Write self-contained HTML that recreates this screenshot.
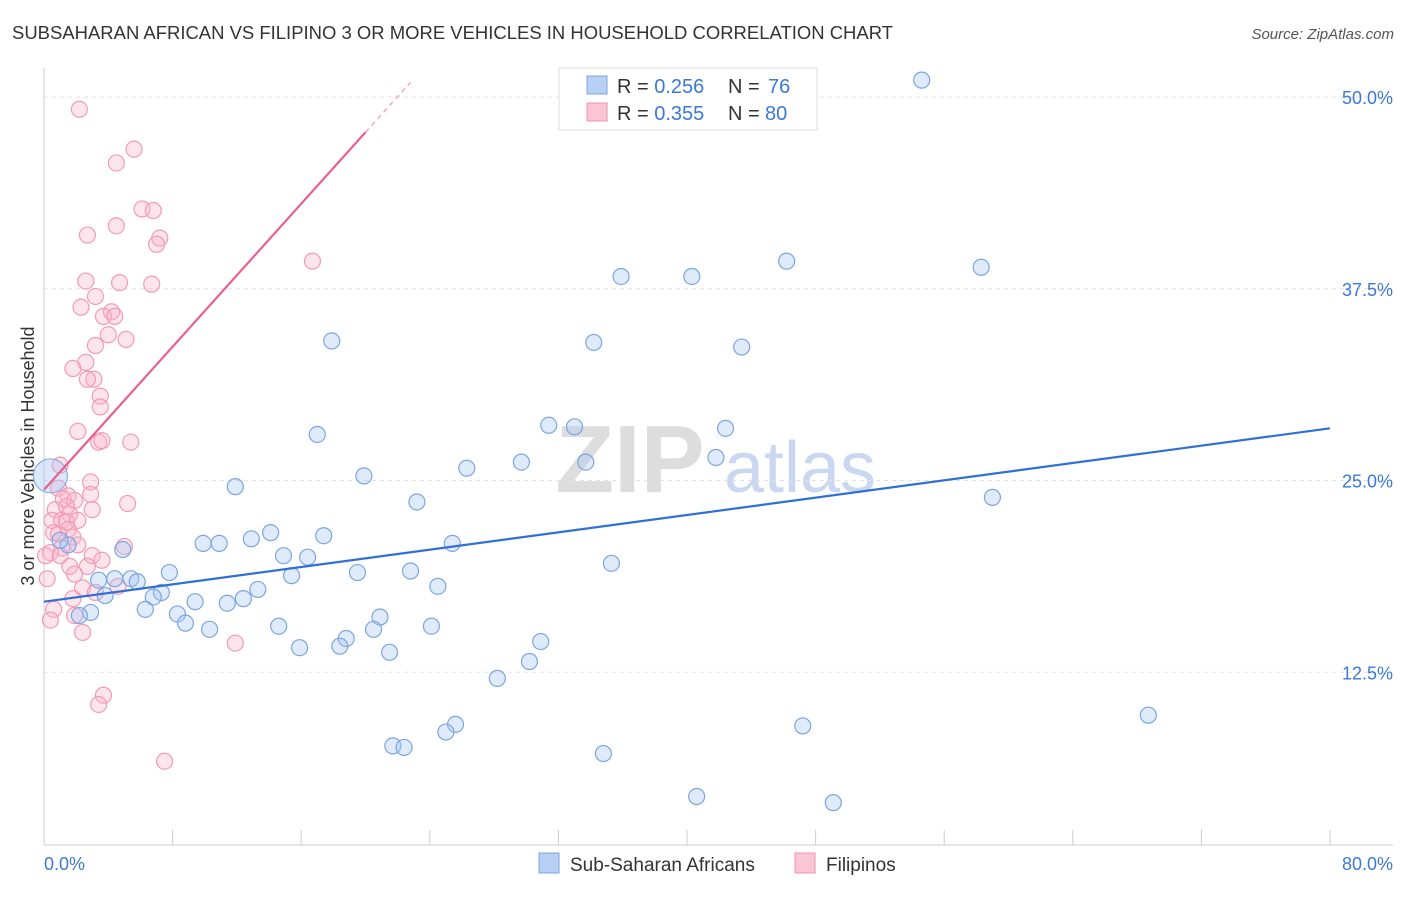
<!DOCTYPE html>
<html><head><meta charset="utf-8"><style>
body{margin:0;background:#fff;font-family:"Liberation Sans",sans-serif;}
svg text{font-family:"Liberation Sans",sans-serif;}
</style></head><body>
<svg id="chart" width="1406" height="892" xmlns="http://www.w3.org/2000/svg">
<text x="12" y="39" font-size="18.5" fill="#333" textLength="881" lengthAdjust="spacingAndGlyphs">SUBSAHARAN AFRICAN VS FILIPINO 3 OR MORE VEHICLES IN HOUSEHOLD CORRELATION CHART</text>
<text x="1394" y="39" font-size="15" fill="#555" font-style="italic" text-anchor="end">Source: ZipAtlas.com</text>
<g>
<text x="630" y="492" font-size="96" fill="#ddd" font-family="Liberation Serif" text-anchor="middle" font-weight="bold">ZIP</text>
<text x="800" y="492" font-size="72" fill="#c9d8f0" text-anchor="middle">atlas</text>
</g>
<g id="grid"></g>
<g id="axes"></g>
<text transform="translate(34,456) rotate(-90)" font-size="18" fill="#333" text-anchor="middle">3 or more Vehicles in Household</text>
<g id="marks"></g>
<g>
<rect x="559" y="68" width="258" height="62" fill="#fff" stroke="#ddd"/>
<rect x="587" y="76" width="20" height="18" fill="#b8d0f4" stroke="#7aa6e0"/>
<rect x="587" y="103" width="20" height="18" fill="#f9c6d6" stroke="#f090b0"/>
<text x="617" y="93" font-size="20" fill="#333">R = <tspan fill="#3b78d8">0.256</tspan></text>
<text x="728" y="93" font-size="20" fill="#333">N = <tspan fill="#3b78d8" x="768">76</tspan></text>
<text x="617" y="120" font-size="20" fill="#333">R = <tspan fill="#3b78d8">0.355</tspan></text>
<text x="728" y="120" font-size="20" fill="#333">N = <tspan fill="#3b78d8" x="765">80</tspan></text>
</g>
<g>
<rect x="539" y="853" width="20" height="20" fill="#b8d0f4" stroke="#7aa6e0"/>
<text x="570" y="871" font-size="19" fill="#333">Sub-Saharan Africans</text>
<rect x="795" y="853" width="20" height="20" fill="#f9c6d6" stroke="#f090b0"/>
<text x="826" y="871" font-size="19" fill="#333">Filipinos</text>
</g>
</svg>
<script>
const blueX=[54.6,46.2,58.3,35.9,40.3,17.9,34.2,43.4,31.4,33.0,42.4,17.0,41.8,29.7,33.7,26.3,19.9,11.9,59.0,23.2,14.1,17.4,12.9,9.9,10.9,25.4,4.9,14.9,16.4,1.5,35.3,22.8,19.5,15.4,7.8,3.4,4.4,5.4,5.8,24.5,13.3,7.3,3.8,6.8,12.4,9.4,11.4,6.3,2.9,8.3,20.9,8.8,14.6,24.1,10.3,20.5,18.8,30.9,18.4,15.9,21.5,30.2,28.2,68.7,25.6,25.0,47.2,21.7,22.4,34.8,40.6,49.1,2.2,1.0];
const blueY=[51.1,39.3,38.9,38.3,38.3,34.1,34.0,33.7,28.6,28.5,28.4,28.0,26.5,26.2,26.2,25.8,25.3,24.6,23.9,23.6,21.6,21.4,21.2,20.9,20.9,20.9,20.5,20.1,20.0,20.8,19.6,19.1,19.0,18.8,19.0,18.5,18.6,18.6,18.4,18.1,17.9,17.7,17.5,17.4,17.3,17.1,17.0,16.6,16.4,16.3,16.1,15.7,15.5,15.5,15.3,15.3,14.7,14.5,14.2,14.1,13.8,13.2,12.1,9.7,9.1,8.6,9.0,7.7,7.6,7.2,4.4,4.0,16.2,21.1];
const pinkX=[2.2,5.6,4.5,6.1,6.8,2.7,4.5,7.2,7.0,16.7,2.6,4.7,6.7,3.2,2.3,4.2,3.7,4.4,4.0,5.1,3.2,2.6,1.8,3.1,2.7,3.5,3.5,2.1,3.4,3.6,5.4,1.0,2.9,0.9,1.5,2.9,1.2,1.9,5.2,3.0,0.7,1.6,0.5,1.1,1.4,2.1,1.5,0.6,0.9,1.8,5.0,2.1,1.1,0.4,0.1,3.0,3.6,1.6,2.7,1.9,2.4,3.2,4.6,1.8,0.6,1.9,0.4,2.4,11.9,3.7,3.4,7.5,0.2,1.0,1.4];
const pinkY=[49.2,46.6,45.7,42.7,42.6,41.0,41.6,40.8,40.4,39.3,38.0,37.9,37.8,37.0,36.3,36.0,35.7,35.7,34.5,34.2,33.8,32.7,32.3,31.6,31.6,30.5,29.8,28.2,27.5,27.6,27.5,26.0,24.9,24.5,24.0,24.1,23.8,23.7,23.5,23.1,23.1,22.8,22.4,22.4,22.3,22.4,21.8,21.6,21.5,21.3,20.7,20.8,20.6,20.3,20.1,20.1,19.8,19.4,19.4,18.9,18.0,17.7,18.1,17.3,16.6,16.2,15.9,15.1,14.4,11.0,10.4,6.7,18.6,20.1,23.3];
const blueTrend=[17.1,28.4];
const pinkTrend=[24.4,1.165];
const yTicks=[12.5,25.0,37.5,50.0];
const yTickLabels=["12.5%","25.0%","37.5%","50.0%"];
const NS="http://www.w3.org/2000/svg";
const sx=v=>44+v/80*1286;
const sy=v=>864-v/50*767;
function mk(t,a,p){const e=document.createElementNS(NS,t);for(const k in a)e.setAttribute(k,a[k]);p.appendChild(e);return e;}
const grid=document.getElementById('grid'),axes=document.getElementById('axes'),marks=document.getElementById('marks');
yTicks.forEach((t,i)=>{
 const l=mk('line',{x1:44,x2:1393,y1:sy(t),y2:sy(t),stroke:'#e2e2e2','stroke-dasharray':'4,4'},grid);
 
 
 const tx=mk('text',{x:1393,y:sy(t)+7,'font-size':18,fill:'#3b78d8','text-anchor':'end'},axes);
 tx.textContent=yTickLabels[i];
 
 
});
let a=mk('line',{x1:44,x2:44,y1:68,y2:845,stroke:'#ccc'},axes);


a=mk('line',{x1:44,x2:1393,y1:845,y2:845,stroke:'#ccc'},axes);


for(let i=0;i<=10;i++){const t=mk('line',{x1:sx(i*8),x2:sx(i*8),y1:830,y2:845,stroke:'#ccc'},axes);
 
 }
let xl=mk('text',{x:44,y:870,'font-size':18,fill:'#3b78d8'},axes);xl.textContent='0.0%';


xl=mk('text',{x:1393,y:870,'font-size':18,fill:'#3b78d8','text-anchor':'end'},axes);xl.textContent='80.0%';


pinkX.forEach((x,i)=>{const c=mk('circle',{cx:sx(x),cy:sy(pinkY[i]),r:8,fill:'rgba(248,180,200,0.35)',stroke:'#f39ab6','stroke-width':1.2},marks);
 
 });
blueX.forEach((x,i)=>{const c=mk('circle',{cx:sx(x),cy:sy(blueY[i]),r:8,fill:'rgba(164,194,244,0.35)',stroke:'#7aa6e0','stroke-width':1.2},marks);
 
 });
let big=mk('circle',{cx:sx(0.4),cy:sy(25.3),r:17,fill:'rgba(164,194,244,0.4)',stroke:'#7aa6e0'},marks);


let bl=mk('line',{x1:sx(0),y1:sy(blueTrend[0]),x2:sx(80),y2:sy(blueTrend[1]),stroke:'#2f6fd6','stroke-width':2.2},marks);


let pl=mk('line',{x1:sx(0),y1:sy(pinkTrend[0]),x2:sx(20),y2:sy(pinkTrend[0]+pinkTrend[1]*20),stroke:'#e8618c','stroke-width':2.2},marks);


let pd=mk('line',{x1:sx(20),y1:sy(pinkTrend[0]+pinkTrend[1]*20),x2:sx(22.8),y2:sy(pinkTrend[0]+pinkTrend[1]*22.8),stroke:'#f4a6be','stroke-width':1.5,'stroke-dasharray':'5,4'},marks);


</script>
</body></html>
